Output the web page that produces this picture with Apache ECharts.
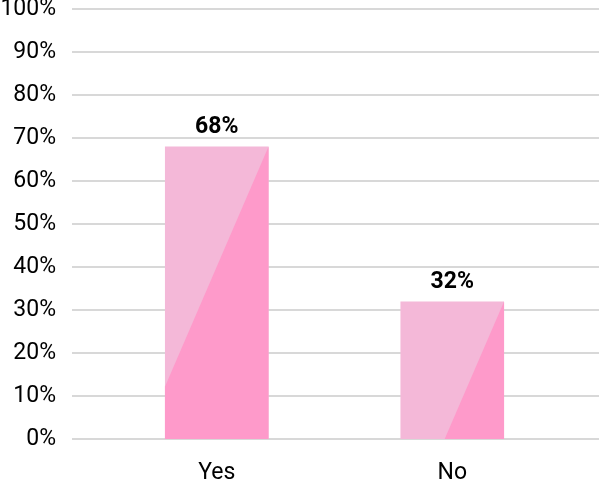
<!DOCTYPE html>
<html>
<head>
<meta charset="utf-8">
<script src="https://cdn.jsdelivr.net/npm/echarts@6/dist/echarts.min.js"></script>
<style>html,body{margin:0;padding:0;background:#fff;}#c{width:599px;height:479px;}</style>
</head>
<body>
<div id="c"></div>
<script>
var categories = ['Yes', 'No'];
var values = [68, 32];
var valueLabels = ['68%', '32%'];
var yTicks = [0, 10, 20, 30, 40, 50, 60, 70, 80, 90, 100];

var LIGHT = '#F4B8D8';
var DARK = '#FE9ACA';
var SLANT = 0.4316; // horizontal run per unit of vertical drop for the dark wedge

var chart = echarts.init(document.getElementById('c'), null, {renderer: 'canvas'});
var option = {
  animation: false,
  backgroundColor: '#ffffff',
  grid: [
    {left: 72, right: 0, top: 9, bottom: 40, containLabel: false, outerBoundsMode: 'none'},
    {left: 99, right: 29, top: 9, bottom: 40, containLabel: false, outerBoundsMode: 'none'}
  ],
  xAxis: [
    {gridIndex: 0, type: 'value', show: false, min: 0, max: 1},
    {gridIndex: 1, type: 'category', data: categories,
     axisLine: {show: false}, axisTick: {show: false},
     axisLabel: {color: '#000', fontFamily: 'Roboto', fontSize: 23, margin: 23}}
  ],
  yAxis: [
    {gridIndex: 0, type: 'value', min: yTicks[0], max: yTicks[yTicks.length - 1], interval: 10,
     axisLine: {show: false}, axisTick: {show: false},
     axisLabel: {color: '#000', fontFamily: 'Roboto', fontSize: 23, margin: 16,
                 formatter: function (v) { return v + '%'; }},
     splitLine: {show: true, lineStyle: {color: '#D8D8D8', width: 2}}},
    {gridIndex: 1, type: 'value', min: yTicks[0], max: yTicks[yTicks.length - 1], interval: 10,
     show: false, splitLine: {show: false}}
  ],
  series: [
    {
      type: 'bar', xAxisIndex: 1, yAxisIndex: 1,
      data: values, barWidth: '44%',
      itemStyle: {color: LIGHT},
      label: {show: true, position: 'top', distance: 8,
              color: '#000', fontFamily: 'Roboto', fontWeight: 'bold', fontSize: 23,
              formatter: function (p) { return valueLabels[p.dataIndex]; }},
      z: 2
    },
    {
      type: 'custom', xAxisIndex: 1, yAxisIndex: 1,
      data: values.map(function (v, i) { return [i, v]; }),
      z: 3,
      silent: true,
      renderItem: function (params, api) {
        var top = api.coord([api.value(0), api.value(1)]);
        var base = api.coord([api.value(0), 0]);
        var w = api.size([1, 0])[0] * 0.44;
        var x0 = top[0] - w / 2, x1 = top[0] + w / 2;
        var yt = top[1], yb = base[1];
        var h = yb - yt;
        var pts;
        var xb = x1 - SLANT * h;
        if (xb >= x0) {
          pts = [[x1, yt], [x1, yb], [xb, yb]];
        } else {
          var yl = yt + w / SLANT;
          pts = [[x1, yt], [x1, yb], [x0, yb], [x0, yl]];
        }
        return {type: 'polygon', shape: {points: pts}, style: {fill: DARK}};
      }
    }
  ]
};
chart.setOption(option);
</script>
</body>
</html>
